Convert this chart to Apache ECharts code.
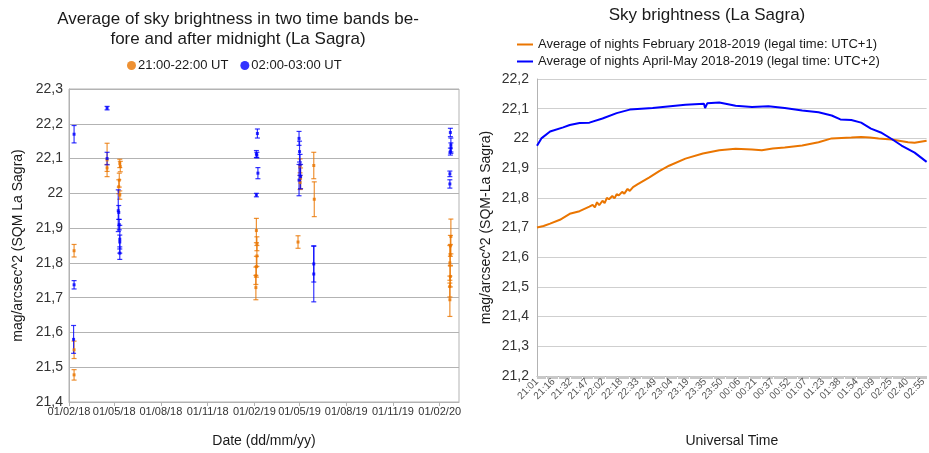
<!DOCTYPE html>
<html><head><meta charset="utf-8">
<script src="https://cdn.jsdelivr.net/npm/echarts@6/dist/echarts.min.js"></script>
<style>html,body{margin:0;padding:0;background:#fff}#c{width:929px;height:453px}</style>
</head><body><div id="c"></div>
<script>
// ---------- Left chart data ----------
const leftTickLabels = ['01/02/18','01/05/18','01/08/18','01/11/18','01/02/19','01/05/19','01/08/19','01/11/19','01/02/20'];
const leftXMin = '2018-02-01';
const leftXMax = '2020-03-10';

const eveningDates  = ['2018-02-11','2018-02-11','2018-02-11','2018-04-17','2018-04-17','2018-05-12','2018-05-13','2018-05-11','2018-05-10','2018-05-12',
                       '2019-02-05','2019-02-06','2019-02-06','2019-02-05','2019-02-04','2019-02-04','2019-05-02','2019-05-03','2019-05-02','2019-04-28',
                       '2019-05-29','2019-05-30','2020-02-23','2020-02-22','2020-02-22','2020-02-21','2020-02-22','2020-02-21','2020-02-21'];
const eveningValues = [21.835,21.55,21.478,22.096,22.073,22.086,22.077,22.038,22.019,21.995,
                       21.893,21.855,21.82,21.789,21.763,21.729,22.079,22.043,22.031,21.86,
                       22.08,21.983,21.876,21.849,21.823,21.80,21.761,21.732,21.694];
const eveningErrors = [0.018,0.025,0.015,0.048,0.01,0.012,0.015,0.02,0.02,0.012,
                       0.035,0.02,0.03,0.03,0.025,0.035,0.02,0.03,0.02,0.018,
                       0.038,0.05,0.05,0.03,0.03,0.05,0.03,0.03,0.048];

const morningDates  = ['2018-02-11','2018-02-11','2018-02-10','2018-04-17','2018-04-17','2018-05-09','2018-05-10','2018-05-11','2018-05-12','2018-05-12','2018-05-12',
                       '2019-02-07','2019-02-05','2019-02-06','2019-02-08','2019-02-05','2019-04-30','2019-05-01','2019-05-02','2019-05-03','2019-04-30',
                       '2019-05-29','2019-05-29','2020-02-22','2020-02-23','2020-02-23','2020-02-22','2020-02-21','2020-02-21'];
const morningValues = [22.17,21.737,21.58,22.245,22.10,21.95,21.945,21.91,21.868,21.86,21.828,
                       22.172,22.113,22.11,22.058,21.995,22.158,22.12,22.082,22.048,22.038,
                       21.797,21.768,22.175,22.139,22.13,22.12,22.056,22.027];
const morningErrors = [0.025,0.012,0.04,0.005,0.018,0.06,0.02,0.015,0.04,0.02,0.018,
                       0.013,0.01,0.008,0.016,0.005,0.02,0.03,0.03,0.035,0.045,
                       0.052,0.08,0.012,0.02,0.015,0.01,0.008,0.012];

// ---------- Right chart data ----------
const rightTickLabels = ['21:01','21:16','21:32','21:47','22:02','22:18','22:33','22:49','23:04','23:19','23:35','23:50',
                         '00:06','00:21','00:37','00:52','01:07','01:23','01:38','01:54','02:09','02:25','02:40','02:55'];
const rightFirstTime = '21:01';
const rightLastTime = '02:58';

const febTimes  = ['21:01','21:07','21:13','21:22','21:31','21:40','21:49','21:52','21:54','21:56','21:58','22:01','22:03','22:05','22:07','22:10',
                   '22:12','22:14','22:16','22:19','22:21','22:24','22:26','22:29','22:33','22:44','22:53','23:02','23:17','23:33','23:48',
                   '00:03','00:18','00:27','00:37','00:48','01:04','01:19','01:31','01:49','01:58','02:06','02:14','02:26','02:41','02:47','02:58'];
const febValues = [21.70,21.705,21.713,21.726,21.746,21.755,21.77,21.776,21.768,21.785,21.775,21.79,21.782,21.80,21.795,21.806,
                   21.798,21.812,21.808,21.82,21.814,21.83,21.823,21.836,21.845,21.869,21.89,21.908,21.932,21.949,21.96,
                   21.965,21.963,21.96,21.966,21.969,21.976,21.987,22.0,22.003,22.005,22.003,22.0,21.996,21.987,21.985,21.992];

const aprTimes  = ['21:01','21:05','21:13','21:25','21:31','21:40','21:49','22:01','22:14','22:26','22:47','23:17','23:34','23:35','23:37','23:48',
                   '00:03','00:18','00:33','00:48','01:04','01:19','01:31','01:39','01:49','01:58','02:07','02:16','02:26','02:35','02:47','02:58'];
const aprValues = [21.975,22.0,22.023,22.037,22.045,22.052,22.053,22.067,22.085,22.097,22.102,22.113,22.117,22.102,22.118,22.121,
                   22.11,22.106,22.108,22.102,22.094,22.088,22.077,22.064,22.062,22.053,22.033,22.020,21.998,21.976,21.952,21.921];

// ---------- helpers ----------
const ORANGE = '#ea7500', BLUE = '#0000ff';
const FONT = 'Liberation Sans';
const ts = s => { const [y,m,d] = s.split('-').map(Number); return Date.UTC(y, m-1, d); };
const tsFromLabel = s => { const [d,m,y] = s.split('/').map(Number); return Date.UTC(2000+y, m-1, d); };
const leftTicks = leftTickLabels.map(tsFromLabel);
const fmtComma = v => String(Math.round(v*10)/10).replace('.', ',');

function minuteCats(first, last) {
  const toMin = t => { const [h,m] = t.split(':').map(Number); return h*60+m; };
  let a = toMin(first), b = toMin(last); if (b < a) b += 1440;
  const out = [];
  for (let t = a; t <= b; t++) { const mm = t % 1440; out.push(String(Math.floor(mm/60)).padStart(2,'0') + ':' + String(mm%60).padStart(2,'0')); }
  return out;
}
const rightCats = minuteCats(rightFirstTime, rightLastTime);

function errRender(color) {
  return function (params, api) {
    const x = api.value(0), y = api.value(1), e = api.value(2);
    const p1 = api.coord([x, y + e]), p2 = api.coord([x, y - e]);
    const w = 2.5;
    const style = { stroke: color, lineWidth: 1.2, opacity: 0.8 };
    return { type: 'group', children: [
      { type: 'line', shape: { x1: p1[0], y1: p1[1], x2: p2[0], y2: p2[1] }, style },
      { type: 'line', shape: { x1: p1[0]-w, y1: p1[1], x2: p1[0]+w, y2: p1[1] }, style },
      { type: 'line', shape: { x1: p2[0]-w, y1: p2[1], x2: p2[0]+w, y2: p2[1] }, style }
    ]};
  };
}
const eveningErr = eveningDates.map((d,i) => [ts(d), eveningValues[i], eveningErrors[i]]);
const morningErr = morningDates.map((d,i) => [ts(d), morningValues[i], morningErrors[i]]);
const eveningPts = eveningDates.map((d,i) => [ts(d), eveningValues[i]]);
const morningPts = morningDates.map((d,i) => [ts(d), morningValues[i]]);

const chart = echarts.init(document.getElementById('c'), null, { renderer: 'canvas' });
chart.setOption({
  animation: false,
  backgroundColor: '#fff',
  textStyle: { fontFamily: FONT },
  title: [
    { text: 'Average of sky brightness in two time bands be-\nfore and after midnight (La Sagra)', left: 233, textAlign: 'center', top: 4,
      textStyle: { fontFamily: FONT, fontSize: 17, fontWeight: 'normal', color: '#1a1a1a', lineHeight: 20 } },
    { text: 'Sky brightness (La Sagra)', left: 702, textAlign: 'center', top: 2,
      textStyle: { fontFamily: FONT, fontSize: 17, fontWeight: 'normal', color: '#1a1a1a' } }
  ],
  legend: [
    { data: ['21:00-22:00 UT', '02:00-03:00 UT'], left: 122, top: 54, icon: 'circle', itemWidth: 9, itemHeight: 9, itemGap: 12,
      textStyle: { fontFamily: FONT, fontSize: 13, color: '#1a1a1a', padding: [0,0,0,-3] } },
    { data: ['Average of nights February 2018-2019 (legal time: UTC+1)', 'Average of nights April-May 2018-2019 (legal time: UTC+2)'],
      orient: 'vertical', left: 512, top: 33, icon: 'rect', itemWidth: 16, itemHeight: 2, itemGap: 4,
      textStyle: { fontFamily: FONT, fontSize: 13, color: '#1a1a1a' } }
  ],
  grid: [
    { left: 69, top: 89, width: 390, height: 313, show: true, borderColor: '#b3b3b3', borderWidth: 1 },
    { left: 537, top: 79, right: 0, height: 303 }
  ],
  xAxis: [
    { type: 'value', gridIndex: 0, min: ts(leftXMin), max: ts(leftXMax),
      name: 'Date (dd/mm/yy)', nameLocation: 'middle', nameGap: 32,
      nameTextStyle: { fontFamily: FONT, fontSize: 14, color: '#1a1a1a' },
      axisLine: { show: true, lineStyle: { color: '#b3b3b3' } },
      axisTick: { show: true, length: 4, lineStyle: { color: '#b3b3b3' }, customValues: leftTicks },
      axisLabel: { customValues: leftTicks, fontSize: 11, color: '#333', margin: 4,
        formatter: v => leftTickLabels[leftTicks.indexOf(v)] || '' },
      splitLine: { show: false } },
    { type: 'category', gridIndex: 1, data: rightCats, boundaryGap: false,
      name: 'Universal Time', nameLocation: 'middle', nameGap: 58,
      nameTextStyle: { fontFamily: FONT, fontSize: 14, color: '#1a1a1a' },
      axisLine: { show: true, lineStyle: { color: '#b3b3b3' } },
      axisTick: { show: true, interval: 0, length: 3, lineStyle: { color: '#c8c8c8' } },
      axisLabel: { interval: (i, v) => rightTickLabels.includes(v), rotate: 45, fontSize: 10, color: '#555', margin: 4 },
      splitLine: { show: false } }
  ],
  yAxis: [
    { type: 'value', gridIndex: 0, min: 21.4, max: 22.3, interval: 0.1,
      name: 'mag/arcsec^2 (SQM La Sagra)', nameLocation: 'middle', nameGap: 44,
      nameTextStyle: { fontFamily: FONT, fontSize: 14, color: '#1a1a1a' },
      axisLine: { show: true, lineStyle: { color: '#b3b3b3' } }, axisTick: { show: false },
      axisLabel: { formatter: fmtComma, fontSize: 14, color: '#333', margin: 6 },
      splitLine: { lineStyle: { color: '#b3b3b3' } } },
    { type: 'value', gridIndex: 1, min: 21.2, max: 22.2, interval: 0.1,
      name: 'mag/arcsec^2 (SQM-La Sagra)', nameLocation: 'middle', nameGap: 44,
      nameTextStyle: { fontFamily: FONT, fontSize: 14, color: '#1a1a1a' },
      axisLine: { show: true, lineStyle: { color: '#b3b3b3' } }, axisTick: { show: false },
      axisLabel: { formatter: fmtComma, fontSize: 14, color: '#333', margin: 8 },
      splitLine: { lineStyle: { color: '#cfcfcf' } } }
  ],
  series: [
    { type: 'custom', name: 'errE', xAxisIndex: 0, yAxisIndex: 0, renderItem: errRender(ORANGE), data: eveningErr, encode: { x: 0, y: 1 }, z: 2 },
    { type: 'custom', name: 'errM', xAxisIndex: 0, yAxisIndex: 0, renderItem: errRender(BLUE), data: morningErr, encode: { x: 0, y: 1 }, z: 2 },
    { type: 'scatter', name: '21:00-22:00 UT', xAxisIndex: 0, yAxisIndex: 0, data: eveningPts, symbol: 'rect', symbolSize: 3, itemStyle: { color: ORANGE }, z: 3 },
    { type: 'scatter', name: '02:00-03:00 UT', xAxisIndex: 0, yAxisIndex: 0, data: morningPts, symbol: 'rect', symbolSize: 3, itemStyle: { color: BLUE }, z: 3 },
    { type: 'line', name: 'Average of nights February 2018-2019 (legal time: UTC+1)', xAxisIndex: 1, yAxisIndex: 1,
      data: febTimes.map((t,i) => [t, febValues[i]]), showSymbol: false, symbol: 'none', lineStyle: { color: ORANGE, width: 2 }, itemStyle: { color: ORANGE } },
    { type: 'line', name: 'Average of nights April-May 2018-2019 (legal time: UTC+2)', xAxisIndex: 1, yAxisIndex: 1,
      data: aprTimes.map((t,i) => [t, aprValues[i]]), showSymbol: false, symbol: 'none', lineStyle: { color: BLUE, width: 2 }, itemStyle: { color: BLUE } }
  ]
});
</script></body></html>
